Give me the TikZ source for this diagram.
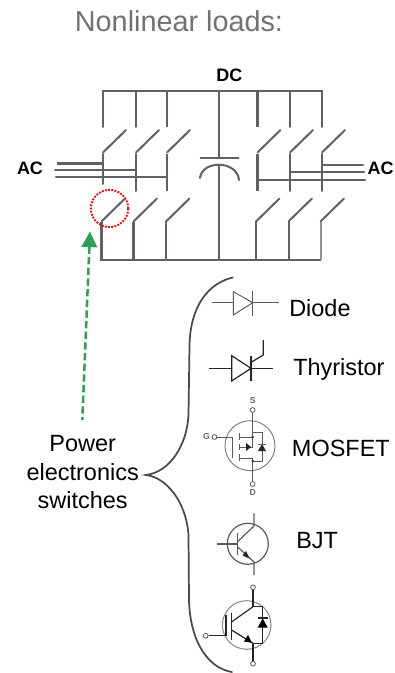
\documentclass[tikz,border=0pt]{standalone}
\usepackage{fontspec}
\setmainfont{Liberation Sans}
\usetikzlibrary{arrows.meta}
\definecolor{wire}{HTML}{5F6167}
\definecolor{sym}{HTML}{5A5A5A}
\definecolor{titlegray}{HTML}{6F7175}
\definecolor{arrowgreen}{HTML}{2BA350}
\definecolor{bracecol}{HTML}{474A52}
\tikzset{
  wireline/.style={draw=wire,line width=1.5pt,line cap=round},
  heavywire/.style={draw=wire,line width=2pt},
  symline/.style={draw=sym,line width=.7pt},
  darksym/.style={draw=black!85,line width=.9pt},
  lab/.style={font=\fontsize{17.6}{21}\selectfont,text=black,inner sep=0pt,anchor=base west},
  sidelab/.style={font=\fontsize{17.6}{21}\selectfont,text=black,inner sep=0pt,anchor=base},
  boldlab/.style={font=\fontsize{13.5}{16}\selectfont\bfseries,text=black,inner sep=0pt},
  tinylab/.style={font=\fontsize{6.5}{7}\selectfont\bfseries,text=black!60,inner sep=0pt},
  term/.style={circle,draw=sym,line width=.6pt,fill=white,minimum size=3.6pt,inner sep=0pt},
}
\begin{document}
\begin{tikzpicture}[x=.75pt,y=-.75pt]
\useasboundingbox (0,0) rectangle (395,673);
\node[font=\fontsize{21.6}{26}\selectfont,text=titlegray,inner sep=0pt,anchor=base] (title) at (179,32) {Nonlinear loads:};
\node[boldlab] (dc) at (229.3,75.5) {DC};
\node[boldlab] (acl) at (30,168) {AC};
\node[boldlab,anchor=east] (acr) at (394,168) {AC};
% DC buses
\draw[wireline] (103,127) -- (103,91) -- (322,91) -- (322,127);
\foreach \x in {136,290} \draw[wireline] (\x,91) -- (\x,127);
\foreach \x in {167,257.5} \draw[heavywire] (\x,91) -- (\x,127);
\draw[wireline] (219,91) -- (219,158);
\draw[heavywire] (101.5,222) -- (101.5,260) -- (320.5,260);
\draw[draw=wire!70,line width=1.5pt] (320.5,260) -- (320.5,222);
\draw[heavywire] (133.5,222) -- (133.5,260);
\foreach \x in {166,256,288.5} \draw[wireline] (\x,222) -- (\x,260);
\draw[wireline] (219,165) -- (219,260);
% capacitor
\draw[wireline] (200.5,158) -- (238.5,158);
\draw[wireline] (200,178) .. controls (202,160) and (237,160) .. (239,180);
% upper switches
\foreach \x in {103,136,167,257.5,290,322}
  \draw[wireline] (\x,152.5) -- ++(23,-22.5);
\draw[wireline] (103,154) -- (103,184);
\foreach \x in {136,290,322} \draw[wireline] (\x,154) -- (\x,191);
\foreach \x in {167,257.5} \draw[heavywire] (\x,154) -- (\x,191);
% lower switches
\foreach \x in {101.5,133.5,166,256,288.5,320.5}
  \draw[wireline] (\x,221.5) -- ++(23.5,-23);
% AC lines
\draw[heavywire] (57,163.5) -- (103,163.5);
\draw[wireline] (55,170.5) -- (136,170.5);
\draw[wireline] (56,177.5) -- (167,177.5);
\draw[wireline] (322,165) -- (363,165);
\draw[wireline] (290,172.5) -- (364,172.5);
\draw[wireline] (257.5,180) -- (365,180);
% marker
\node[circle,draw=red,densely dotted,line width=1.4pt,minimum size=28pt,inner sep=0pt] (mark) at (109.5,208.5) {};
\coordinate (arrowtip) at (90,231.5);
\coordinate (arrowtail) at (82.3,420);
\draw[arrowgreen,line width=1.9pt,dash pattern=on 5.5pt off 2.5pt,{Triangle[width=11.5pt,length=11.7pt]}-] (arrowtip) -- (arrowtail);
% brace
\draw[draw=bracecol,line width=1.3pt,line cap=round]
 (232.7,277.5) .. controls (202,285) and (190,315) .. (189.5,345)
 -- (188.5,415) .. controls (187,445) and (170,472) .. (146,475)
 .. controls (165,477) and (186,500) .. (188.5,535)
 -- (189,600) .. controls (190,640) and (207,668) .. (232,672);
\node[sidelab] (sw1) at (82.7,451.7) {Power};
\node[sidelab] (sw2) at (82.7,480.7) {electronics};
\node[sidelab] (sw3) at (82.7,508) {switches};
% Diode
\draw[symline] (211.7,302.7) -- (233.3,302.7) (252.7,302.7) -- (279.3,302.7);
\draw[symline] (233.3,291.7) -- (233.3,315) -- (252.7,302.7) -- cycle;
\draw[draw=sym,line width=1pt] (252.7,291) -- (252.7,316);
\node[lab] (diode) at (289,316) {Diode};
% Thyristor
\draw[darksym] (209,368.3) -- (231.7,368.3) (251,368.3) -- (273.3,368.3);
\draw[darksym] (231.7,355.7) -- (231.7,381) -- (251,368.3) -- cycle;
\draw[darksym] (251,356) -- (251,381);
\draw[darksym] (251,362.3) -- (263.3,355) -- (263.3,340);
\node[lab] (thy) at (293,375) {Thyristor};
% MOSFET
\draw[draw=sym!80,line width=.7pt] (250,445.7) circle (25);
\node[tinylab] (s) at (252.7,400.5) {S};
\node[tinylab] (g) at (206.5,436.5) {G};
\node[term] (ts) at (252.7,410) {};
\node[term] (tg) at (214.5,437) {};
\node[term] (td) at (252.7,484) {};
\node[tinylab] (d) at (252.7,493) {D};
\draw[symline] (ts) -- (252.7,447);
\draw[symline] (tg) -- (232.7,437) -- (232.7,458);
\draw[symline] (252.7,458) -- (td);
\draw[symline] (239,433) -- (239,440) (239,444) -- (239,450) (239,454) -- (239,461);
\draw[symline] (239,437) -- (252.7,437) (239,447) -- (252.7,447) (239,458) -- (252.7,458);
\draw[symline] (252.7,432) -- (262,432) -- (262,461) -- (252.7,461);
\fill[black!80] (252.7,437) circle (1.3) (252.7,461) circle (1.3);
\fill[black!85] (251,447) -- (246,443) -- (246,451) -- cycle;
\fill[black!85] (262,444) -- (258,451) -- (266,451) -- cycle;
\draw[symline] (258,444) -- (266,444);
\node[lab] (mos) at (291.7,456) {MOSFET};
% BJT
\draw[draw=sym,line width=.9pt] (247.8,543.8) circle (20.5);
\draw[draw=sym,line width=.9pt] (216.7,544) -- (237.7,544) (237.7,533) -- (237.7,555);
\draw[draw=sym,line width=.9pt] (237.7,541.5) -- (254,526) -- (254,513.3);
\draw[draw=sym,line width=.9pt] (237.7,547) -- (254,562) -- (254,575);
\fill[black!85] (249.5,558.5) -- (242.5,555.5) -- (246,551) -- cycle;
\node[lab] (bjt) at (296,548) {BJT};
% IGBT
\draw[draw=sym!70,line width=.8pt] (246.7,625) circle (24.3);
\node[term] (tc) at (253,587.3) {};
\node[term] (te) at (253,663.7) {};
\node[term] (tgi) at (205.7,635.7) {};
\draw[darksym] (tc) -- (253,606.7) -- (262.7,606.7) -- (262.7,643.3) -- (253,643.3) -- (te);
\draw[darksym] (tgi) -- (226,635.7) -- (226,615);
\draw[darksym] (231.5,613) -- (231.5,640);
\draw[darksym] (231.5,622) -- (253,606.7);
\draw[darksym] (231.5,630) -- (253,643.3);
\fill[black] (252,642.8) -- (244,641.5) -- (248,635) -- cycle;
\fill[black] (262.7,618.5) -- (257.7,627.5) -- (267.7,627.5) -- cycle;
\draw[darksym] (257.7,618) -- (267.7,618);
\end{tikzpicture}
\end{document}
